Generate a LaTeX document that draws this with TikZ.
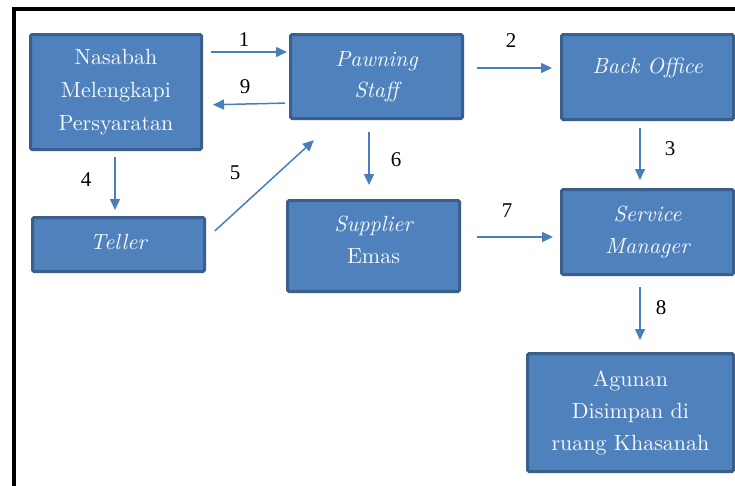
\documentclass[tikz,border=0pt]{standalone}
\usepackage{fontspec}
\setmainfont{lmroman10-regular.otf}[ItalicFont=lmroman10-italic.otf]
\newfontfamily\numfont{Liberation Serif}
\usetikzlibrary{arrows.meta}
\definecolor{boxfill}{HTML}{4F81BD}
\definecolor{boxline}{HTML}{3A5F8C}
\definecolor{arrcol}{HTML}{4A7EBB}
\definecolor{boxtext}{HTML}{F6F8FB}
\begin{document}
\begin{tikzpicture}[x=1pt,y=-1pt,
  box/.style={draw=boxline, fill=boxfill, line width=3pt, rounded corners=1.5pt,
    text=boxtext, font=\fontsize{22}{32}\selectfont, align=center, inner sep=0pt},
  arr/.style={draw=arrcol, line width=1.5pt, -{Triangle[length=11pt,width=10pt]}},
  num/.style={font=\numfont\fontsize{21}{24}\selectfont, text=black, inner sep=0pt}]
\clip (0,0) rectangle (735,485);
\fill[white] (0,0) rectangle (735,485);
\draw[line width=3.5pt, black] (14,9) rectangle (780,520);

\node[box, minimum width=171pt, minimum height=115pt, font=\fontsize{22}{33}\selectfont] (nas) at (116,92)
  {Nasabah\\Melengkapi\\Persyaratan};
\node[box, minimum width=172pt, minimum height=84pt, font=\fontsize{22}{31}\selectfont] (paw) at (376.5,76.5)
  {\itshape Pawning\\\itshape Staff};
\node[box, minimum width=172pt, minimum height=85pt] (bo) at (647.5,77)
  {\raisebox{22pt}{\itshape Back Office}};
\node[box, minimum width=172pt, minimum height=54pt] (tel) at (118.5,244.5)
  {\raisebox{6pt}{\itshape Teller}};
\node[box, minimum width=172pt, minimum height=91pt] (sup) at (373.5,246)
  {\itshape Supplier\\Emas\rule[-13pt]{0pt}{13pt}};
\node[box, minimum width=172pt, minimum height=85pt] (sm) at (647.5,232)
  {\itshape Service\\\itshape Manager};
\node[box, minimum width=206pt, minimum height=118pt] (ag) at (630.5,412.5)
  {Agunan\\Disimpan di\\ruang Khasanah};

\draw[arr, shorten <=8pt, shorten >=2pt] (nas.east |- 0,52) -- (paw.west |- 0,52);
\draw[arr, shorten <=4pt, shorten >=10pt] (paw.west |- 0,103) -- (nas.east |- 0,105);
\draw[arr, shorten <=13pt, shorten >=8pt] (paw.east |- 0,68) -- (bo.west |- 0,68);
\draw[arr, shorten <=7pt, shorten >=8pt] (bo.south -| 640,0) -- (sm.north -| 640,0);
\draw[arr, shorten <=6pt, shorten >=6pt] (nas.south -| 115,0) -- (tel.north -| 115,0);
\draw[arr, shorten <=12pt, shorten >=30pt] (tel.east |- 0,239) -- (paw.south -| 336,0);
\draw[arr, shorten <=12pt, shorten >=14pt] (paw.south -| 369,0) -- (sup.north -| 369,0);
\draw[arr, shorten <=16pt, shorten >=7pt] (sup.east |- 0,237) -- (sm.west |- 0,237);
\draw[arr, shorten <=11pt, shorten >=12pt] (sm.south -| 640,0) -- (ag.north -| 640,0);

\node[num] (n1) at (244,40) {1};
\node[num] (n9) at (245,87) {9};
\node[num] (n2) at (511,41) {2};
\node[num] (n3) at (670,149) {3};
\node[num] (n4) at (86,180) {4};
\node[num] (n5) at (235,173) {5};
\node[num] (n6) at (396,160) {6};
\node[num] (n7) at (507,211) {7};
\node[num] (n8) at (661,308) {8};
\end{tikzpicture}
\end{document}
